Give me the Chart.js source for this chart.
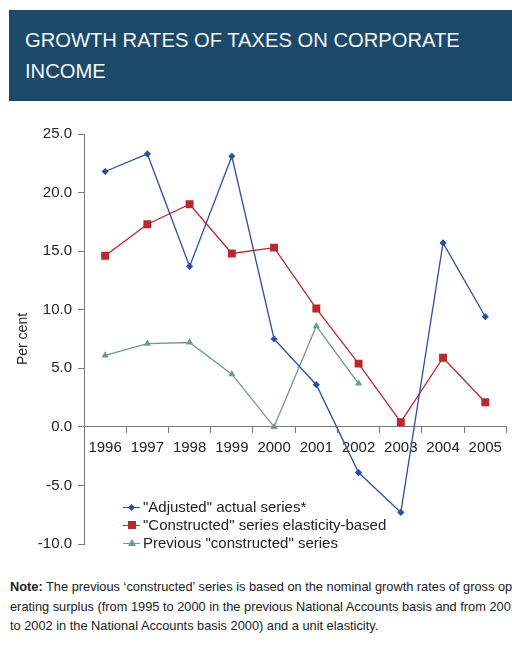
<!DOCTYPE html>
<html>
<head>
<meta charset="utf-8">
<script src="https://cdn.jsdelivr.net/npm/chart.js@4"></script>
<style>
  body { margin: 0; width: 512px; height: 645px; background: #fff; overflow: hidden; position: relative;
         font-family: "Liberation Sans", Arial, sans-serif; }
  .header { position: absolute; left: 9px; top: 10px; width: 503px; height: 91px; background: #1c4967; }
  .header h1 { margin: 0; position: absolute; left: 16px; top: 15px; font-weight: normal; font-size: 20.2px;
               line-height: 31px; color: #f4f6f8; white-space: nowrap; }
  .chart-box { position: absolute; left: 0; top: 110px; width: 512px; height: 450px; }
  .legend { position: absolute; left: 123px; top: 498px; font-size: 15px; color: #222; }
  .legend .row { height: 18px; line-height: 18px; white-space: nowrap; position: relative; padding-left: 20px; }
  .legend .ln { position: absolute; left: 0; top: 8.5px; width: 17px; height: 1.3px; }
  .legend .mk { position: absolute; }
  .note { position: absolute; left: 10px; top: 577px; width: 502px; overflow: hidden; font-size: 12.8px;
          line-height: 19.5px; color: #222; }
  .note div { white-space: nowrap; }
</style>
</head>
<body>
<div class="header"><h1>GROWTH RATES OF TAXES ON CORPORATE<br>INCOME</h1></div>
<div class="chart-box"><canvas id="taxChart" width="512" height="450"></canvas></div>
<div class="legend" id="legend"></div>
<div class="note">
  <div><b>Note:</b> The previous ‘constructed’ series is based on the nominal growth rates of gross op</div>
  <div>erating surplus (from 1995 to 2000 in the previous National Accounts basis and from 2001</div>
  <div>to 2002 in the National Accounts basis 2000) and a unit elasticity.</div>
</div>
<script>
// data
const years = ['1996', '1997', '1998', '1999', '2000', '2001', '2002', '2003', '2004', '2005'];
const adjustedActual = [21.8, 23.3, 13.7, 23.1, 7.5, 3.6, -3.9, -7.3, 15.7, 9.4];
const constructedElasticity = [14.6, 17.3, 19.0, 14.8, 15.3, 10.1, 5.4, 0.4, 5.9, 2.1];
const previousConstructed = [6.1, 7.1, 7.2, 4.5, 0.0, 8.6, 3.7, null, null, null];
const yTicks = [-10, -5, 0, 5, 10, 15, 20, 25];

const blue = '#2b4fa6';
const red = '#b8282f';
const green = '#6f9b88';
const axisGrey = '#7a7a7a';
const tickFont = { family: 'Liberation Sans', size: 15 };

const series = [
    { label: '"Adjusted" actual series*', data: adjustedActual, color: blue, style: 'rectRot', radius: 3.6 },
    { label: '"Constructed" series elasticity-based', data: constructedElasticity, color: red, style: 'rect', radius: 5.6 },
    { label: 'Previous "constructed" series', data: previousConstructed, color: green, style: 'triangle', radius: 4.2 }
];

const ctx = document.getElementById('taxChart').getContext('2d');
const taxChart = new Chart(ctx, {
    type: 'line',
    data: {
        labels: years,
        datasets: series.map(s => ({
            label: s.label,
            data: s.data,
            borderColor: s.color,
            backgroundColor: s.color,
            borderWidth: 1.3,
            pointStyle: s.style,
            pointRadius: s.radius,
            pointBorderWidth: 0,
            tension: 0,
            spanGaps: false
        }))
    },
    options: {
        responsive: false,
        animation: false,
        layout: { padding: { top: 24, right: 2, bottom: 16, left: 0 } },
        plugins: { legend: { display: false }, tooltip: { enabled: false } },
        scales: {
            x: {
                type: 'category',
                position: { y: 0 },
                offset: true,
                grid: { offset: true, drawOnChartArea: false, drawTicks: true, tickLength: 6, color: axisGrey },
                border: { display: true, color: axisGrey, width: 1 },
                ticks: { color: '#222', font: tickFont, padding: 6, maxRotation: 0, autoSkip: false }
            },
            y: {
                min: -10,
                max: 25,
                afterFit: (scale) => { scale.width = 84; },
                afterBuildTicks: (scale) => { scale.ticks = yTicks.map(v => ({ value: v })); },
                grid: { drawOnChartArea: false, drawTicks: true, tickLength: 6, color: axisGrey },
                border: { display: true, color: axisGrey, width: 1 },
                ticks: {
                    color: '#222', font: tickFont, padding: 6,
                    callback: (v) => Number(v).toFixed(1)
                },
                title: { display: true, text: 'Per cent', color: '#222', font: { family: 'Liberation Sans', size: 14 }, padding: { top: 15, bottom: 0 } }
            }
        }
    }
});

// legenda HTML
const legendEl = document.getElementById('legend');
series.forEach(s => {
    const row = document.createElement('div');
    row.className = 'row';
    let mk = '';
    if (s.style === 'rectRot') {
        mk = `<span class="mk" style="left:6px;top:6.5px;width:5px;height:5px;background:${s.color};transform:rotate(45deg)"></span>`;
    } else if (s.style === 'rect') {
        mk = `<span class="mk" style="left:5px;top:5px;width:8px;height:8px;background:${s.color}"></span>`;
    } else {
        mk = `<span class="mk" style="left:4.5px;top:4.5px;width:0;height:0;border-left:4px solid transparent;border-right:4px solid transparent;border-bottom:7px solid ${s.color}"></span>`;
    }
    row.innerHTML = `<span class="ln" style="background:${s.color}"></span>${mk}${s.label}`;
    legendEl.appendChild(row);
});
</script>
</body>
</html>
